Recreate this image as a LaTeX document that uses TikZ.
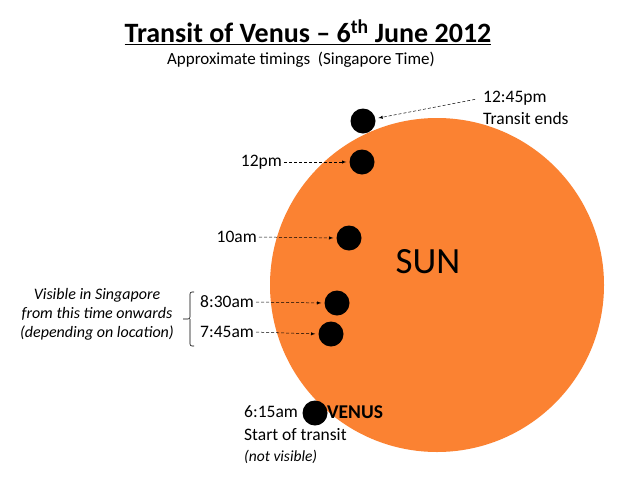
\documentclass[tikz,border=0pt]{standalone}
\usepackage{fontspec}
\setmainfont{Carlito}
\definecolor{sunorange}{HTML}{FB8232}
\begin{document}
\begin{tikzpicture}[x=1pt,y=-1pt,
  venus/.style={circle,fill=black,inner sep=0pt,minimum size=25pt},
  lbl/.style={inner sep=0pt,font=\fontsize{17.5}{22}\selectfont},
  ptr/.style={densely dashed,-latex,line width=0.5pt,shorten <=2pt,shorten >=3pt},
  note/.style={inner sep=0pt,align=center,font=\fontsize{16}{19}\selectfont\itshape}]
\useasboundingbox[fill=white] (0,0) rectangle (640,480);
\fill[sunorange] (437,285) circle (167);
\node[inner sep=0pt,font=\fontsize{37}{40}\selectfont] (sun) at (428,262) {SUN};
\node[inner sep=0pt,font=\fontsize{28}{32}\selectfont\bfseries] (title) at (308,32)
  {\underline{Transit of Venus -- 6\textsuperscript{th} June 2012}};
\node[inner sep=0pt,font=\fontsize{17}{20}\selectfont] (sub) at (301,60) {Approximate timings\ \ (Singapore Time)};
\node[venus] (v1) at (363,121) {};
\node[venus] (v2) at (362,162) {};
\node[venus] (v3) at (349,238) {};
\node[venus] (v4) at (337,303) {};
\node[venus] (v5) at (331,334) {};
\node[venus] (v6) at (315,413) {};
\node[lbl,anchor=west,align=left] (l1) at (483,108) {12:45pm\\Transit ends};
\node[lbl,anchor=east] (l2) at (282,162) {12pm};
\node[lbl,anchor=east] (l3) at (257,237) {10am};
\node[lbl,anchor=west] (l4) at (200,302) {8:30am};
\node[lbl,anchor=west] (l5) at (200,332) {7:45am};
\node[lbl,anchor=west] (l6) at (244,412) {6:15am};
\node[lbl,anchor=west,font=\fontsize{19.5}{22}\selectfont\bfseries] (vn) at (327,412) {VENUS};
\node[lbl,anchor=west] (st) at (244,435) {Start of transit};
\node[lbl,anchor=west,font=\fontsize{15.5}{18}\selectfont\itshape] (nv) at (244,457) {(not visible)};
\coordinate (a1) at (477,99);
\draw[ptr] (a1) -- (v1);
\draw[ptr] (l2.east) -- (v2.west);
\draw[ptr] (l3.east) -- (v3.west);
\draw[ptr] (l4.east) -- (v4.west);
\draw[ptr] (l5.east) -- (v5.west);
\coordinate (b1) at (194,292);
\coordinate (b2) at (194,346);
\coordinate (bm) at (183,319);
\draw[line width=0.6pt,rounded corners=2pt] (b1) -- (190,292) -- (190,319) -- (bm);
\draw[line width=0.6pt,rounded corners=2pt] (b2) -- (190,346) -- (190,319);
\node[note] (vis) at (97,314) {Visible in Singapore\\from this time onwards\\(depending on location)};
\end{tikzpicture}
\end{document}
